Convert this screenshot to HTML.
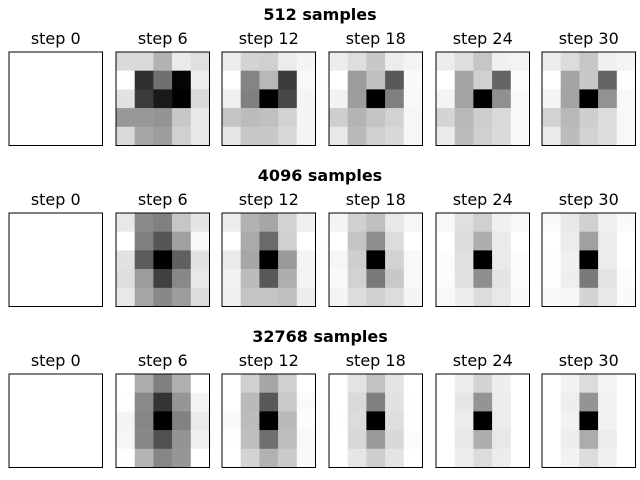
<!DOCTYPE html>
<html><head><meta charset="utf-8"><style>
body{margin:0;background:#fff;}
svg{display:block;font-family:"DejaVu Sans","Liberation Sans",sans-serif;}
</style></head><body>
<svg id="chart" width="640" height="480" viewBox="0 0 640 480"></svg>
<script>
const rowTitles = ["512 samples","4096 samples","32768 samples"];
const steps = [0,6,12,18,24,30];
const W = [255,255,255,255,255];
const blank = [W,W,W,W,W];
// brightness values (0=black, 255=white)
const row512 = [blank,
[[218,218,178,234,224],[255,48,112,5,236],[226,60,25,0,218],[152,152,148,200,232],[218,166,156,208,232]],
[[236,212,208,236,244],[255,132,184,60,248],[240,128,0,72,244],[196,188,192,210,244],[230,200,200,216,244]],
[[236,222,200,236,244],[255,156,192,88,250],[242,156,0,128,248],[206,180,196,210,246],[232,186,208,216,246]],
[[236,222,198,240,244],[255,164,208,100,252],[244,164,0,144,248],[212,184,206,218,248],[234,188,208,218,248]],
[[236,220,198,240,244],[255,164,200,100,254],[244,164,0,146,248],[210,184,206,220,248],[234,188,210,220,248]]];
const row4096 = [blank,
[[232,138,128,198,228],[255,128,86,160,250],[226,92,0,96,226],[222,156,64,136,232],[232,166,136,156,220]],
[[236,178,166,212,240],[255,170,106,208,255],[234,166,0,154,244],[242,188,88,174,244],[240,196,196,192,238]],
[[244,208,192,232,246],[255,196,142,220,255],[246,206,0,210,248],[250,210,122,200,248],[244,220,208,220,244]],
[[248,224,208,240,248],[255,220,174,234,255],[252,224,0,234,252],[252,226,142,228,252],[248,238,220,232,250]],
[[250,232,208,240,250],[255,236,160,236,255],[254,240,0,236,255],[254,238,122,228,252],[250,246,212,232,250]]];
const row32768 = [blank,
[[255,172,128,176,255],[254,138,52,150,244],[244,134,0,130,234],[246,136,80,148,240],[254,180,134,150,255]],
[[255,208,166,208,255],[255,186,88,202,250],[250,188,0,186,252],[254,190,112,190,248],[255,212,178,202,250]],
[[255,228,194,228,255],[255,218,128,226,254],[254,220,0,222,254],[255,216,154,216,252],[255,230,206,228,255]],
[[255,238,212,238,255],[255,230,148,236,255],[255,236,0,236,255],[255,232,174,232,255],[255,238,220,236,255]],
[[255,242,220,244,255],[255,238,148,242,255],[255,242,0,242,255],[255,238,172,236,255],[255,242,220,240,255]]];
const rows = [row512,row4096,row32768];

const NS="http://www.w3.org/2000/svg";
const svg=document.getElementById('chart');
function mk(t,a){const e=document.createElementNS(NS,t);for(const k in a)e.setAttribute(k,a[k]);svg.appendChild(e);return e;}
const colX=[9,116,222,329,436,542], rowY=[52,213,374], S=93.5, n=5;
rows.forEach((row,r)=>{
  const t=mk('text',{x:320,y:rowY[r]-32,'text-anchor':'middle','font-size':16,'font-weight':'bold'});
  t.textContent=rowTitles[r];
  
  
  row.forEach((grid,c)=>{
    const x0=colX[c],y0=rowY[r],cs=S/n;
    const st=mk('text',{x:x0+S/2,y:y0-8,'text-anchor':'middle','font-size':16});
    st.textContent='step '+steps[c];
    
    
    grid.forEach((line,i)=>line.forEach((v,j)=>{
      const e=mk('rect',{x:x0+j*cs,y:y0+i*cs,width:cs+0.3,height:cs+0.3,fill:`rgb(${v},${v},${v})`});
      
      
    }));
    const f=mk('rect',{x:x0,y:y0,width:S,height:S,fill:'none',stroke:'#000','stroke-width':1});
    
    
  });
});
</script>
</body></html>
